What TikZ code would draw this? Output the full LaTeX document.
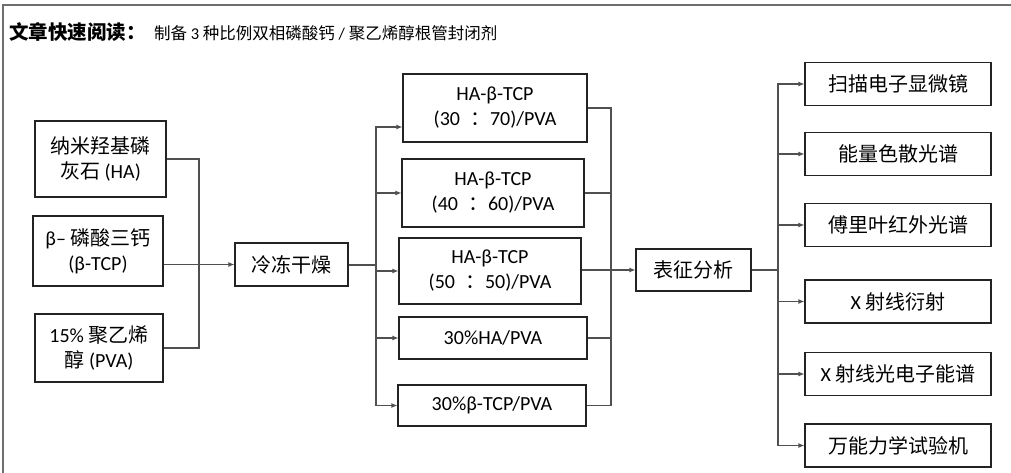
\documentclass[tikz,border=0pt]{standalone}
\usepackage{fontspec}
\setmainfont{Carlito}
\newfontfamily\cjk{Noto Sans CJK SC}
\usepackage{tikz}
\usetikzlibrary{arrows.meta}
\definecolor{linegray}{RGB}{80,80,80}
\definecolor{framegray}{RGB}{110,110,110}
\definecolor{boxblack}{RGB}{35,35,35}
% ratio colon with even spacing on both sides
\newcommand{\ratiocolon}{\hspace{10pt}{\cjk ：}}

\begin{document}
\begin{tikzpicture}[
  x=1pt, y=-1pt,
  box/.style={
    draw=boxblack,
    line width=1.1pt,
    align=center,
    inner sep=0pt,
    font=\fontsize{20}{25}\selectfont
  },
  wh/.style 2 args={minimum width=#1pt, minimum height=#2pt},
  link/.style={line width=1.1pt, linegray},
  arrow/.style={-{Latex[length=6pt,width=5pt]}, line width=1.1pt, linegray}
]
\useasboundingbox (0,0) rectangle (1011,473);
\draw[framegray, line width=1.6pt] (3,473) -- (3,5) -- (1011,5);

% heading
\node[anchor=base west, inner sep=0pt, font=\fontsize{19.5}{21}\selectfont\cjk\bfseries]
  (title) at (9,39.5) {文章快速阅读：};
\node[anchor=base west, inner sep=0pt, font=\fontsize{16.5}{18}\selectfont]
  (subtitle) at ([xshift=8pt]title.base east)
  {{\cjk 制备} 3 {\cjk 种比例双相磷酸钙} / {\cjk 聚乙烯醇根管封闭剂}};

% raw materials
\node[box, wh={131}{76}] (ha) at (100.5,159) {{\cjk 纳米羟基磷}\\{\cjk 灰石} (HA)};
\node[box, wh={130}{70}] (tcp) at (98,251) {β– {\cjk 磷酸三钙}\\(β-TCP)};
\node[box, wh={128}{68}] (pva) at (99,348) {15\% {\cjk 聚乙烯}\\{\cjk 醇} (PVA)};

\node[box, wh={113}{43}] (freeze) at (291.5,264.5) {\cjk 冷冻干燥};

% sealer groups
\node[box, wh={184}{68}] (hatcp37) at (495,108) {HA-β-TCP\\(30\ratiocolon 70)/PVA};
\node[box, wh={182}{68}] (hatcp46) at (493,193) {HA-β-TCP\\(40\ratiocolon 60)/PVA};
\node[box, wh={182}{66}] (hatcp55) at (490,271) {HA-β-TCP\\(50\ratiocolon 50)/PVA};
\node[box, wh={188}{42}] (hapva) at (493,338) {30\%HA/PVA};
\node[box, wh={188}{41}] (tcppva) at (492,405.5) {30\%β-TCP/PVA};

\node[box, wh={115}{42}] (charact) at (693.5,270) {\cjk 表征分析};

% characterisation methods
\node[box, wh={186}{43}] (sem) at (898,84) {\cjk 扫描电子显微镜};
\node[box, wh={186}{43}] (eds) at (898,154) {\cjk 能量色散光谱};
\node[box, wh={186}{43}] (ftir) at (898,225) {\cjk 傅里叶红外光谱};
\node[box, wh={186}{43}] (xrd) at (898,301.5) {X {\cjk 射线衍射}};
\node[box, wh={186}{43}] (xps) at (898,374) {X {\cjk 射线光电子能谱}};
\node[box, wh={186}{43}] (utm) at (898,445.5) {\cjk 万能力学试验机};

% mixing -> freeze drying
\coordinate (mixjoin) at (199,264.5);
\draw[link] (ha.east) -| (mixjoin);
\draw[link] (pva.east) -| (mixjoin);
\draw[arrow] (tcp.east |- freeze.west) -- (freeze.west);

% freeze drying -> groups
\coordinate (drysplit) at (376,264.5);
\draw[link, line width=2pt] (freeze.east) -- (drysplit);
\draw[arrow] (drysplit) |- ([yshift=-19pt]hatcp37.west);
\foreach \grp in {hatcp46,hatcp55,hapva,tcppva}
  \draw[arrow] (drysplit) |- (\grp.west);

% groups -> characterisation
\coordinate (samplejoin) at (611,270);
\foreach \grp in {hatcp37,hatcp46,hapva,tcppva}
  \draw[link] (\grp.east) -| (samplejoin);
\draw[arrow] (hatcp55.east |- charact.west) -- (charact.west);

% characterisation -> methods
\coordinate (testsplit) at (778,270);
\draw[link] (charact.east) -- (testsplit);
\foreach \m in {sem,eds,ftir,xrd,xps,utm}
  \draw[arrow] (testsplit) |- (\m.west);
\end{tikzpicture}
\end{document}
